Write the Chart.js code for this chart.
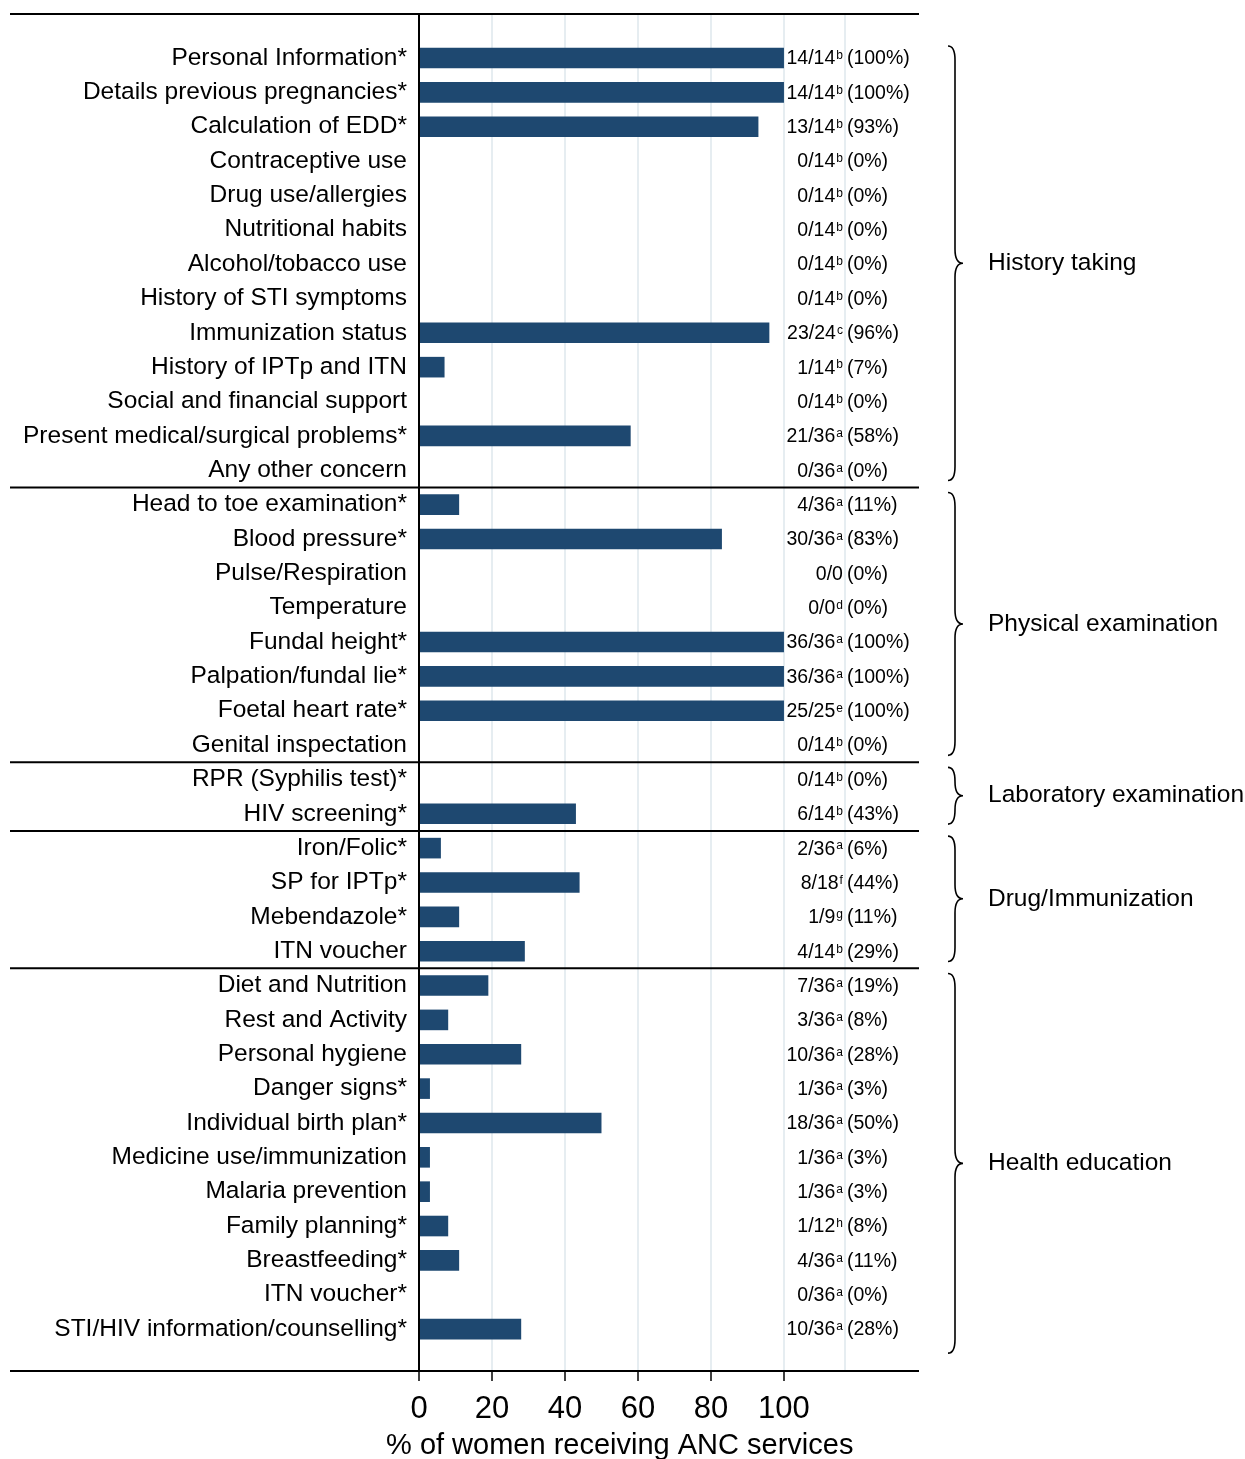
<!DOCTYPE html>
<html lang="en">
<head>
    <meta charset="UTF-8">
    <title>ANC services received</title>
    <script src="https://cdn.jsdelivr.net/npm/chart.js"></script>
    <style>
        body {
            margin: 0;
            background: #fff;
        }
        .wrap {
            width: 1245px;
            height: 1459px;
            position: relative;
        }
    </style>
</head>
<body>
    <div class="wrap">
        <canvas id="ancChart"></canvas>
    </div>
    <script>
        // services (top to bottom)
        const categories = [
            'Personal Information*', 'Details previous pregnancies*', 'Calculation of EDD*',
            'Contraceptive use', 'Drug use/allergies', 'Nutritional habits', 'Alcohol/tobacco use',
            'History of STI symptoms', 'Immunization status', 'History of IPTp and ITN',
            'Social and financial support', 'Present medical/surgical problems*', 'Any other concern',
            'Head to toe examination*', 'Blood pressure*', 'Pulse/Respiration', 'Temperature',
            'Fundal height*', 'Palpation/fundal lie*', 'Foetal heart rate*', 'Genital inspectation',
            'RPR (Syphilis test)*', 'HIV screening*',
            'Iron/Folic*', 'SP for IPTp*', 'Mebendazole*', 'ITN voucher',
            'Diet and Nutrition', 'Rest and Activity', 'Personal hygiene', 'Danger signs*',
            'Individual birth plan*', 'Medicine use/immunization', 'Malaria prevention',
            'Family planning*', 'Breastfeeding*', 'ITN voucher*', 'STI/HIV information/counselling*'
        ];
        const percents = [100, 100, 93, 0, 0, 0, 0, 0, 96, 7, 0, 58, 0,
                          11, 83, 0, 0, 100, 100, 100, 0,
                          0, 43,
                          6, 44, 11, 29,
                          19, 8, 28, 3, 50, 3, 3, 8, 11, 0, 28];
        const numerators = [14, 14, 13, 0, 0, 0, 0, 0, 23, 1, 0, 21, 0,
                            4, 30, 0, 0, 36, 36, 25, 0,
                            0, 6,
                            2, 8, 1, 4,
                            7, 3, 10, 1, 18, 1, 1, 1, 4, 0, 10];
        const denominators = [14, 14, 14, 14, 14, 14, 14, 14, 24, 14, 14, 36, 36,
                              36, 36, 0, 0, 36, 36, 25, 14,
                              14, 14,
                              36, 18, 9, 14,
                              36, 36, 36, 36, 36, 36, 36, 12, 36, 36, 36];
        const footnotes = ['b', 'b', 'b', 'b', 'b', 'b', 'b', 'b', 'c', 'b', 'b', 'a', 'a',
                           'a', 'a', '', 'd', 'a', 'a', 'e', 'b',
                           'b', 'b',
                           'a', 'f', 'g', 'b',
                           'a', 'a', 'a', 'a', 'a', 'a', 'a', 'h', 'a', 'a', 'a'];
        const groupNames = ['History taking', 'Physical examination', 'Laboratory examination',
                            'Drug/Immunization', 'Health education'];
        const groupStart = [0, 13, 21, 23, 27];
        const groupEnd = [12, 20, 22, 26, 37];
        const xTickValues = [0, 20, 40, 60, 80, 100];
        const extraGrid = 116.7;

        const FONT = "'Liberation Sans', Arial, sans-serif";
        const BAR_COLOR = '#1e4870';
        const GRID_COLOR = '#e6edf1';

        const decorations = {
            id: 'decorations',
            afterDraw(chart) {
                const ctx = chart.ctx;
                const xs = chart.scales.x;
                const ys = chart.scales.y;
                const area = chart.chartArea;
                ctx.save();

                // horizontal rules: top, group separators, bottom
                ctx.strokeStyle = '#000';
                ctx.lineWidth = 2;
                const rules = [area.top, area.bottom];
                for (let g = 1; g < groupStart.length; g++) {
                    rules.push(ys.getPixelForValue(groupStart[g] - 0.5));
                }
                rules.forEach(y => {
                    ctx.beginPath();
                    ctx.moveTo(10, y);
                    ctx.lineTo(area.right, y);
                    ctx.stroke();
                });

                // value labels: "num/den^x (pct%)"
                const anchor = xs.getPixelForValue(extraGrid);
                ctx.fillStyle = '#000';
                ctx.textBaseline = 'middle';
                for (let i = 0; i < categories.length; i++) {
                    const y = ys.getPixelForValue(i) + 1;
                    ctx.font = '12px ' + FONT;
                    const supW = footnotes[i] ? ctx.measureText(footnotes[i]).width + 1 : 0;
                    ctx.textAlign = 'right';
                    ctx.fillText(footnotes[i], anchor - 2, y - 3);
                    ctx.font = '19.5px ' + FONT;
                    ctx.fillText(numerators[i] + '/' + denominators[i], anchor - 2 - supW, y);
                    ctx.textAlign = 'left';
                    ctx.fillText('(' + percents[i] + '%)', anchor + 2, y);
                }

                // braces and group names
                ctx.lineWidth = 1.6;
                const xL = area.right + 29, xV = area.right + 36, xT = area.right + 44, r = 14;
                for (let g = 0; g < groupNames.length; g++) {
                    const top = ys.getPixelForValue(groupStart[g] - 0.35);
                    const bot = ys.getPixelForValue(groupEnd[g] + (g === groupNames.length - 1 ? 0.7 : 0.3));
                    const mid = (top + bot) / 2;
                    ctx.beginPath();
                    ctx.moveTo(xL, top);
                    ctx.quadraticCurveTo(xV, top, xV, top + r);
                    ctx.lineTo(xV, mid - r);
                    ctx.quadraticCurveTo(xV, mid, xT, mid);
                    ctx.quadraticCurveTo(xV, mid, xV, mid + r);
                    ctx.lineTo(xV, bot - r);
                    ctx.quadraticCurveTo(xV, bot, xL, bot);
                    ctx.stroke();
                    ctx.font = '24.5px ' + FONT;
                    ctx.textAlign = 'left';
                    ctx.fillText(groupNames[g], area.right + 69, mid);
                }

                // axis title
                ctx.font = '29px ' + FONT;
                ctx.textAlign = 'center';
                ctx.fillText('% of women receiving ANC services', xs.getPixelForValue(55), 1446);
                ctx.restore();
            }
        };

        const ctx = document.getElementById('ancChart').getContext('2d');
        new Chart(ctx, {
            type: 'bar',
            data: {
                datasets: [{
                    data: percents.map((v, i) => ({ x: v, y: i })),
                    backgroundColor: BAR_COLOR,
                    borderWidth: 0,
                    barPercentage: 0.6,
                    categoryPercentage: 1
                }]
            },
            options: {
                indexAxis: 'y',
                responsive: true,
                maintainAspectRatio: false,
                animation: false,
                layout: { padding: { top: 14, right: 326, bottom: 0, left: 0 } },
                plugins: {
                    legend: { display: false },
                    tooltip: { enabled: false }
                },
                scales: {
                    x: {
                        type: 'linear',
                        min: 0,
                        max: 137,
                        afterBuildTicks: scale => {
                            scale.ticks = xTickValues.concat([extraGrid]).map(v => ({ value: v }));
                        },
                        afterFit: scale => {
                            scale.height = 88;
                            scale.paddingLeft = 0;
                            scale.paddingRight = 0;
                        },
                        grid: {
                            color: c => (c.tick && c.tick.value === 0) ? 'rgba(0,0,0,0)' : GRID_COLOR,
                            lineWidth: 2,
                            tickColor: c => (c.tick && xTickValues.includes(c.tick.value)) ? '#000' : 'rgba(0,0,0,0)',
                            tickWidth: 1.5,
                            tickLength: 10
                        },
                        border: { display: false },
                        ticks: {
                            font: { family: FONT, size: 31 },
                            color: '#000',
                            padding: 10,
                            maxRotation: 0,
                            callback: v => xTickValues.includes(v) ? String(v) : ''
                        }
                    },
                    y: {
                        type: 'linear',
                        reverse: true,
                        offset: false,
                        min: -1.28,
                        max: 38.22,
                        afterBuildTicks: scale => {
                            scale.ticks = categories.map((c, i) => ({ value: i }));
                        },
                        afterFit: scale => {
                            scale.width = 419;
                            scale.paddingTop = 0;
                            scale.paddingBottom = 0;
                        },
                        grid: { display: false, drawTicks: false },
                        border: { display: true, color: '#000', width: 2 },
                        ticks: {
                            font: { family: FONT, size: 24.5 },
                            color: '#000',
                            padding: 12,
                            autoSkip: false,
                            callback: v => categories[v] || ''
                        }
                    }
                }
            },
            plugins: [decorations]
        });
    </script>
</body>
</html>
